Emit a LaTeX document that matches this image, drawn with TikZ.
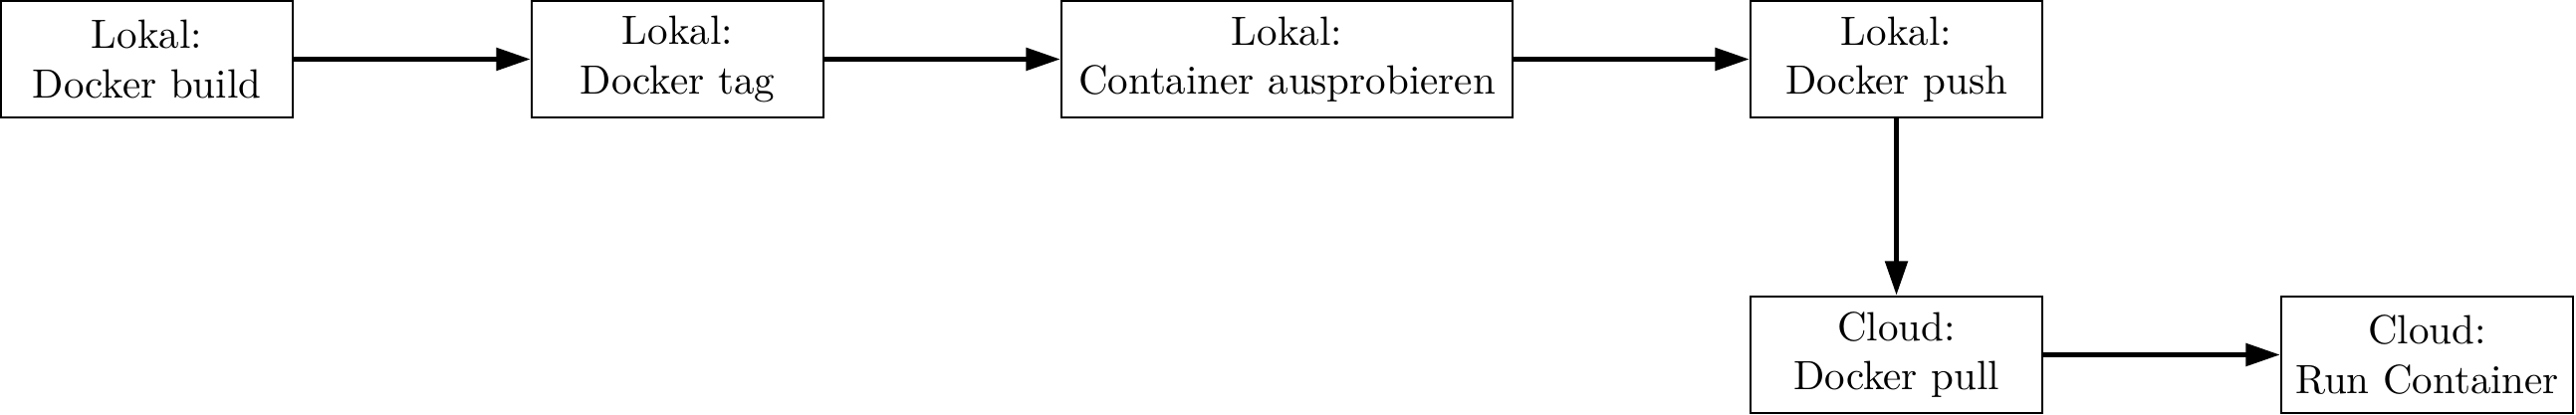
\documentclass[tikz,border=0pt]{standalone}
\usetikzlibrary{arrows.meta}
\begin{document}
\begin{tikzpicture}[x=0.2439pt,y=-0.2439pt,
  stepbox/.style={draw, line width=0.55pt, align=center, minimum width=71.5pt, minimum height=28.6pt, inner sep=3.3pt},
  flow/.style={line width=1.2pt, -{Triangle[length=8.4pt,width=5.4pt]}}]
\useasboundingbox (0,0) rectangle (2587,417);
\node[stepbox] (b1) at (147.5,59.5) {Lokal:\\Docker build};
\node[stepbox] (b2) at (680.5,59.5) {Lokal:\\Docker tag};
\node[stepbox, minimum width=110.5pt] (b3) at (1292.5,59.5) {Lokal:\\Container ausprobieren};
\node[stepbox] (b4) at (1904.5,59.5) {Lokal:\\Docker push};
\node[stepbox] (b5) at (1904.5,356.5) {Cloud:\\Docker pull};
\node[stepbox] (b6) at (2437.5,356.5) {Cloud:\\Run Container};
\draw[flow] (b1) -- (b2);
\draw[flow] (b2) -- (b3);
\draw[flow] (b3) -- (b4);
\draw[flow] (b4) -- (b5);
\draw[flow] (b5) -- (b6);
\end{tikzpicture}
\end{document}
